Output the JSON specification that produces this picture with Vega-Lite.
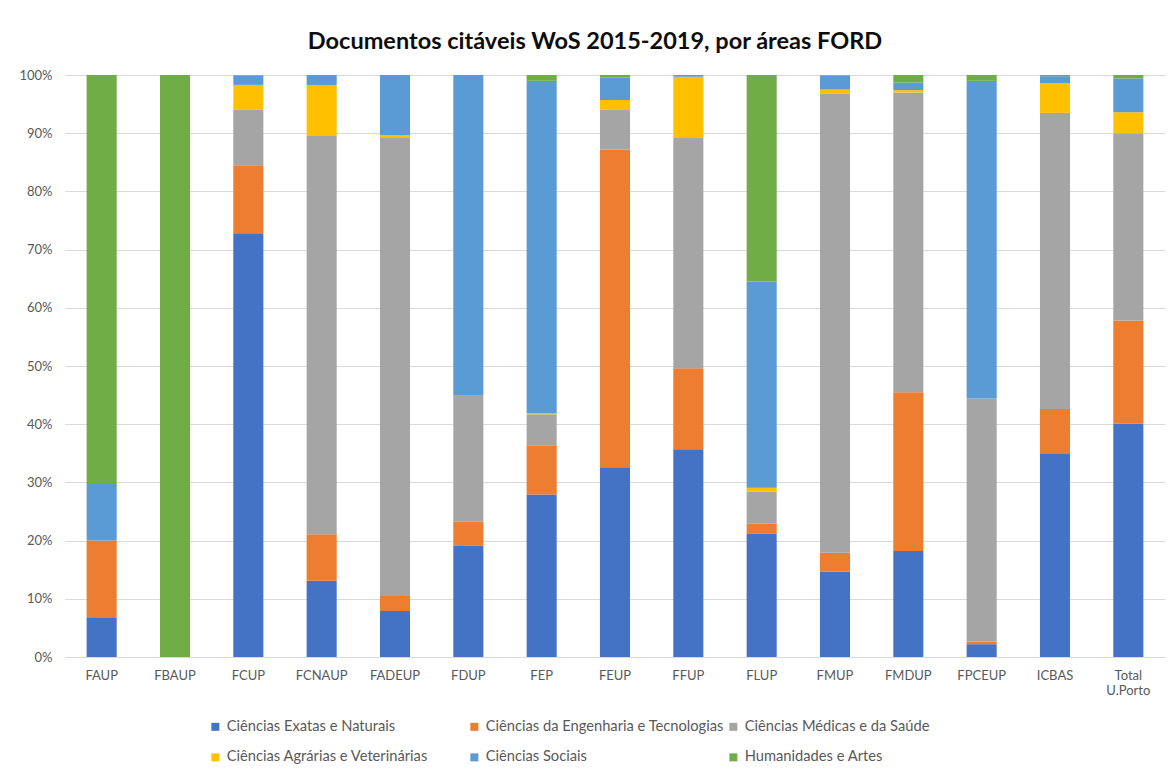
{
  "$schema": "https://vega.github.io/schema/vega-lite/v6.json",
  "autosize": {"type": "none"},
  "width": 1100,
  "height": 582,
  "padding": {"left": 65, "top": 75, "right": 5, "bottom": 112},
  "background": "white",
  "title": {
    "text": "Documentos citáveis WoS 2015-2019, por áreas FORD",
    "font": "Lato",
    "fontSize": 23.5,
    "fontWeight": "bold",
    "color": "#0d0d0d",
    "anchor": "middle",
    "dx": -20,
    "offset": 16
  },
  "datasets": {
    "ordem": [
      {"area": "Ciências Exatas e Naturais", "k": 0},
      {"area": "Ciências da Engenharia e Tecnologias", "k": 1},
      {"area": "Ciências Médicas e da Saúde", "k": 2},
      {"area": "Ciências Agrárias e Veterinárias", "k": 3},
      {"area": "Ciências Sociais", "k": 4},
      {"area": "Humanidades e Artes", "k": 5}
    ]
  },
  "data": {
    "values": [
      {"u": "FAUP", "Ciências Exatas e Naturais": 6.7, "Ciências da Engenharia e Tecnologias": 13.3, "Ciências Médicas e da Saúde": 0, "Ciências Agrárias e Veterinárias": 0, "Ciências Sociais": 9.9, "Humanidades e Artes": 70.1},
      {"u": "FBAUP", "Ciências Exatas e Naturais": 0, "Ciências da Engenharia e Tecnologias": 0, "Ciências Médicas e da Saúde": 0, "Ciências Agrárias e Veterinárias": 0, "Ciências Sociais": 0, "Humanidades e Artes": 100},
      {"u": "FCUP", "Ciências Exatas e Naturais": 72.8, "Ciências da Engenharia e Tecnologias": 11.7, "Ciências Médicas e da Saúde": 9.5, "Ciências Agrárias e Veterinárias": 4.3, "Ciências Sociais": 1.6, "Humanidades e Artes": 0.1},
      {"u": "FCNAUP", "Ciências Exatas e Naturais": 13.1, "Ciências da Engenharia e Tecnologias": 8.0, "Ciências Médicas e da Saúde": 68.4, "Ciências Agrárias e Veterinárias": 8.8, "Ciências Sociais": 1.7, "Humanidades e Artes": 0},
      {"u": "FADEUP", "Ciências Exatas e Naturais": 7.9, "Ciências da Engenharia e Tecnologias": 2.6, "Ciências Médicas e da Saúde": 78.8, "Ciências Agrárias e Veterinárias": 0.4, "Ciências Sociais": 10.3, "Humanidades e Artes": 0},
      {"u": "FDUP", "Ciências Exatas e Naturais": 19.1, "Ciências da Engenharia e Tecnologias": 4.2, "Ciências Médicas e da Saúde": 21.7, "Ciências Agrárias e Veterinárias": 0, "Ciências Sociais": 55.0, "Humanidades e Artes": 0},
      {"u": "FEP", "Ciências Exatas e Naturais": 27.9, "Ciências da Engenharia e Tecnologias": 8.5, "Ciências Médicas e da Saúde": 5.3, "Ciências Agrárias e Veterinárias": 0.2, "Ciências Sociais": 57.1, "Humanidades e Artes": 1.0},
      {"u": "FEUP", "Ciências Exatas e Naturais": 32.6, "Ciências da Engenharia e Tecnologias": 54.6, "Ciências Médicas e da Saúde": 6.8, "Ciências Agrárias e Veterinárias": 1.7, "Ciências Sociais": 3.9, "Humanidades e Artes": 0.4},
      {"u": "FFUP", "Ciências Exatas e Naturais": 35.7, "Ciências da Engenharia e Tecnologias": 13.9, "Ciências Médicas e da Saúde": 39.7, "Ciências Agrárias e Veterinárias": 10.4, "Ciências Sociais": 0.3, "Humanidades e Artes": 0},
      {"u": "FLUP", "Ciências Exatas e Naturais": 21.2, "Ciências da Engenharia e Tecnologias": 1.7, "Ciências Médicas e da Saúde": 5.5, "Ciências Agrárias e Veterinárias": 0.7, "Ciências Sociais": 35.4, "Humanidades e Artes": 35.5},
      {"u": "FMUP", "Ciências Exatas e Naturais": 14.7, "Ciências da Engenharia e Tecnologias": 3.2, "Ciências Médicas e da Saúde": 78.9, "Ciências Agrárias e Veterinárias": 0.7, "Ciências Sociais": 2.4, "Humanidades e Artes": 0.1},
      {"u": "FMDUP", "Ciências Exatas e Naturais": 18.2, "Ciências da Engenharia e Tecnologias": 27.3, "Ciências Médicas e da Saúde": 51.5, "Ciências Agrárias e Veterinárias": 0.4, "Ciências Sociais": 1.3, "Humanidades e Artes": 1.3},
      {"u": "FPCEUP", "Ciências Exatas e Naturais": 2.2, "Ciências da Engenharia e Tecnologias": 0.4, "Ciências Médicas e da Saúde": 41.8, "Ciências Agrárias e Veterinárias": 0, "Ciências Sociais": 54.6, "Humanidades e Artes": 1.0},
      {"u": "ICBAS", "Ciências Exatas e Naturais": 34.9, "Ciências da Engenharia e Tecnologias": 7.7, "Ciências Médicas e da Saúde": 50.9, "Ciências Agrárias e Veterinárias": 5.1, "Ciências Sociais": 1.2, "Humanidades e Artes": 0.2},
      {"u": "Total U.Porto", "Ciências Exatas e Naturais": 40.1, "Ciências da Engenharia e Tecnologias": 17.7, "Ciências Médicas e da Saúde": 32.2, "Ciências Agrárias e Veterinárias": 3.6, "Ciências Sociais": 5.8, "Humanidades e Artes": 0.6}
    ]
  },
  "transform": [
    {"fold": ["Ciências Exatas e Naturais", "Ciências da Engenharia e Tecnologias", "Ciências Médicas e da Saúde", "Ciências Agrárias e Veterinárias", "Ciências Sociais", "Humanidades e Artes"], "as": ["area", "valor"]},
    {"lookup": "area", "from": {"data": {"name": "ordem"}, "key": "area", "fields": ["k"]}}
  ],
  "mark": {"type": "bar"},
  "encoding": {
    "x": {
      "field": "u",
      "type": "nominal",
      "sort": null,
      "scale": {"paddingInner": 0.59, "paddingOuter": 0.295},
      "axis": {
        "title": null,
        "labelAngle": 0,
        "labelExpr": "split(datum.label, ' ')",
        "labelFont": "Lato",
        "labelFontSize": 13,
        "labelColor": "#595959",
        "labelPadding": 12,
        "ticks": false,
        "domain": true,
        "domainColor": "#d9d9d9",
        "domainWidth": 1,
        "grid": false
      }
    },
    "y": {
      "field": "valor",
      "type": "quantitative",
      "stack": "normalize",
      "scale": {"domain": [0, 1], "nice": false},
      "axis": {
        "title": null,
        "format": ".0%",
        "values": [0, 0.1, 0.2, 0.3, 0.4, 0.5, 0.6, 0.7, 0.8, 0.9, 1],
        "labelFont": "Lato",
        "labelFontSize": 13,
        "labelColor": "#595959",
        "labelPadding": 13,
        "ticks": false,
        "domain": false,
        "grid": true,
        "gridColor": "#d9d9d9",
        "gridWidth": 1
      }
    },
    "order": {"field": "k", "type": "quantitative", "sort": "ascending"},
    "color": {
      "field": "area",
      "type": "nominal",
      "sort": ["Ciências Exatas e Naturais", "Ciências da Engenharia e Tecnologias", "Ciências Médicas e da Saúde", "Ciências Agrárias e Veterinárias", "Ciências Sociais", "Humanidades e Artes"],
      "scale": {
        "domain": ["Ciências Exatas e Naturais", "Ciências da Engenharia e Tecnologias", "Ciências Médicas e da Saúde", "Ciências Agrárias e Veterinárias", "Ciências Sociais", "Humanidades e Artes"],
        "range": ["#4472C4", "#ED7D31", "#A5A5A5", "#FFC000", "#5B9BD5", "#70AD47"]
      },
      "legend": {
        "title": null,
        "orient": "none",
        "legendX": 143,
        "legendY": 644,
        "direction": "horizontal",
        "columns": 3,
        "gridAlign": "all",
        "columnPadding": 2,
        "rowPadding": 15,
        "symbolType": "square",
        "symbolSize": 64,
        "symbolStrokeWidth": 0,
        "labelFont": "Lato",
        "labelFontSize": 14.7,
        "labelColor": "#595959",
        "labelOffset": 4,
        "labelLimit": 400
      }
    }
  },
  "config": {
    "view": {"stroke": null}
  }
}
